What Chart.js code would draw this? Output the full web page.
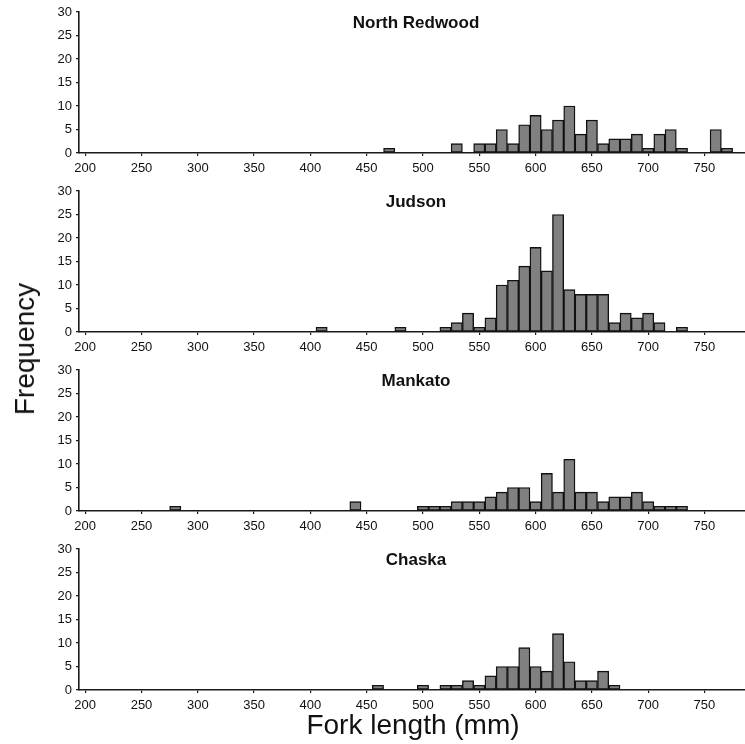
<!DOCTYPE html>
<html>
<head>
<meta charset="utf-8">
<script src="https://cdn.jsdelivr.net/npm/chart.js@4.4.1/dist/chart.umd.min.js"></script>
<style>
  html, body { margin: 0; padding: 0; background: #fff; overflow: hidden; }
  #wrap { position: relative; width: 745px; height: 744px; }
  canvas { position: absolute; left: 0; }
  .lbl { position: absolute; font-family: "Liberation Sans", Arial, sans-serif; color: #111; white-space: nowrap; }
</style>
</head>
<body>
<div id="wrap">
  <canvas id="c0" width="745" height="180"></canvas>
  <canvas id="c1" width="745" height="180"></canvas>
  <canvas id="c2" width="745" height="180"></canvas>
  <canvas id="c3" width="745" height="180"></canvas>
  <div class="lbl" id="ylab" style="font-size:28px; left:25px; top:349px; transform: translate(-50%,-50%) rotate(-90deg);">Frequency</div>
  <div class="lbl" id="xlab" style="font-size:28px; left:413px; top:725px; transform: translate(-50%,-50%);">Fork length (mm)</div>
</div>
<script>
// ---- Data (bin centres in mm, 10-mm bins; counts) ----
const siteNames = ["North Redwood", "Judson", "Mankato", "Chaska"];

const northRedwoodLengths = [470, 530, 550, 560, 570, 580, 590, 600, 610, 620, 630, 640, 650, 660, 670, 680, 690, 700, 710, 720, 730, 760, 770];
const northRedwoodCounts  = [1,   2,   2,   2,   5,   2,   6,   8,   5,   7,   10,  4,   7,   2,   3,   3,   4,   1,   4,   5,   1,   5,   1];

const judsonLengths = [410, 480, 520, 530, 540, 550, 560, 570, 580, 590, 600, 610, 620, 630, 640, 650, 660, 670, 680, 690, 700, 710, 730];
const judsonCounts  = [1,   1,   1,   2,   4,   1,   3,   10,  11,  14,  18,  13,  25,  9,   8,   8,   8,   2,   4,   3,   4,   2,   1];

const mankatoLengths = [280, 440, 500, 510, 520, 530, 540, 550, 560, 570, 580, 590, 600, 610, 620, 630, 640, 650, 660, 670, 680, 690, 700, 710, 720, 730];
const mankatoCounts  = [1,   2,   1,   1,   1,   2,   2,   2,   3,   4,   5,   5,   2,   8,   4,   11,  4,   4,   2,   3,   3,   4,   2,   1,   1,   1];

const chaskaLengths = [460, 500, 520, 530, 540, 550, 560, 570, 580, 590, 600, 610, 620, 630, 640, 650, 660, 670];
const chaskaCounts  = [1,   1,   1,   1,   2,   1,   3,   5,   5,   9,   5,   4,   12,  6,   2,   2,   4,   1];

const xTickLabels = [200, 250, 300, 350, 400, 450, 500, 550, 600, 650, 700, 750];
const yTickLabels = [0, 5, 10, 15, 20, 25, 30];

const series = [
  [northRedwoodLengths, northRedwoodCounts],
  [judsonLengths, judsonCounts],
  [mankatoLengths, mankatoCounts],
  [chaskaLengths, chaskaCounts]
];

// ---- Layout ----
const panelTops = [12, 191, 370, 549];
const FONT = '"Liberation Sans", Arial, sans-serif';
const AXIS = '#1a1a1a';

const titlePlugin = {
  id: 'panelTitle',
  afterDraw(chart, args, opts) {
    const ctx = chart.ctx, a = chart.chartArea;
    ctx.save();
    ctx.font = 'bold 17px ' + FONT;
    ctx.fillStyle = '#111';
    ctx.textAlign = 'center';
    ctx.textBaseline = 'middle';
    ctx.fillText(opts.text, (a.left + a.right) / 2 + 4, a.top + 11);
    ctx.restore();
  }
};

series.forEach((s, i) => {
  const cv = document.getElementById('c' + i);
  cv.style.top = (panelTops[i] - 12) + 'px';
  const pts = s[0].map((x, k) => ({ x: x, y: s[1][k] }));
  new Chart(cv, {
    type: 'bar',
    data: {
      datasets: [{
        data: pts,
        backgroundColor: '#808080',
        borderColor: '#111',
        borderWidth: 1.4,
        borderSkipped: false,
        barPercentage: 1,
        categoryPercentage: 1
      }]
    },
    options: {
      responsive: false,
      animation: false,
      events: [],
      layout: { padding: { top: 12, left: 0, right: 0, bottom: 0 } },
      plugins: {
        legend: { display: false },
        tooltip: { enabled: false },
        panelTitle: { text: siteNames[i] }
      },
      scales: {
        x: {
          type: 'linear',
          min: 194.5,
          max: 786,
          offset: false,
          afterBuildTicks: sc => { sc.ticks = xTickLabels.map(v => ({ value: v })); },
          afterFit: sc => { sc.height = 27; },
          ticks: { autoSkip: false, maxRotation: 0, padding: 5, color: '#111', font: { family: FONT, size: 13 } },
          grid: { display: true, drawOnChartArea: false, drawTicks: true, tickLength: 3, color: AXIS, offset: false, lineWidth: 1.2 },
          border: { display: true, color: AXIS, width: 1.6 }
        },
        y: {
          min: 0,
          max: 30,
          afterBuildTicks: sc => { sc.ticks = yTickLabels.map(v => ({ value: v })); },
          afterFit: sc => { sc.width = 79; },
          ticks: { padding: 4, color: '#111', font: { family: FONT, size: 13 } },
          grid: { display: true, drawOnChartArea: false, drawTicks: true, tickLength: 3, color: AXIS, lineWidth: 1.2 },
          border: { display: true, color: AXIS, width: 1.6 }
        }
      }
    },
    plugins: [titlePlugin]
  });
});
</script>
</body>
</html>
